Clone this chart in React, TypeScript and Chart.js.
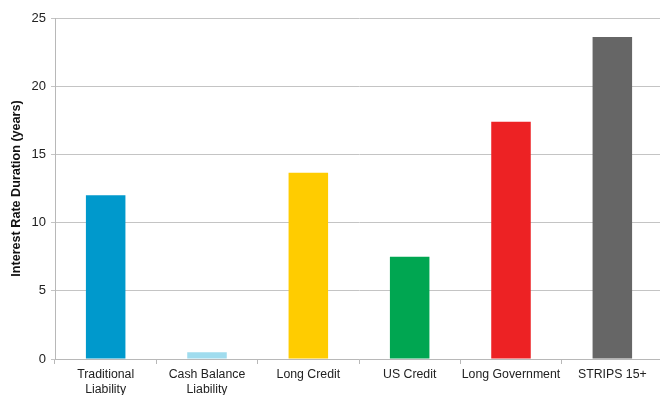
import React, { useEffect, useRef } from "react";
import { Chart, registerables } from "chart.js";

Chart.register(...registerables);

const categories: (string | string[])[] = [
  ["Traditional", "Liability"],
  ["Cash Balance", "Liability"],
  "Long Credit",
  "US Credit",
  "Long Government",
  "STRIPS 15+",
];
const durations = [12.0, 0.5, 13.65, 7.5, 17.4, 23.6];
const barColors = ["#0099cc", "#a0dcee", "#ffcc00", "#00a651", "#ed2224", "#666666"];
const yTicks = [0, 5, 10, 15, 20, 25];
const yTitle = "Interest Rate Duration (years)";

export default function App() {
  const ref = useRef<HTMLCanvasElement>(null);
  useEffect(() => {
    if (!ref.current) return;
    const chart = new Chart(ref.current, {
      type: "bar",
      data: {
        labels: categories,
        datasets: [
          {
            data: durations,
            backgroundColor: barColors,
            borderWidth: 0,
            barPercentage: 0.39,
            categoryPercentage: 1,
          },
        ],
      },
      options: {
        responsive: false,
        animation: false,
        layout: { padding: { top: 18, right: 0, left: 0, bottom: 0 } },
        plugins: { legend: { display: false }, tooltip: { enabled: false } },
        scales: {
          x: {
            grid: { drawOnChartArea: false, drawTicks: true, tickLength: 5, color: "#b8b8b8", offset: true },
            border: { color: "#b8b8b8" },
            ticks: { color: "#222", font: { family: "Liberation Sans, Arial", size: 12.3 }, padding: 3, maxRotation: 0, autoSkip: false },
            afterFit: (s: any) => { s.height = 36; },
          },
          y: {
            min: 0,
            max: 25,
            afterBuildTicks: (s: any) => { s.ticks = yTicks.map((v) => ({ value: v })); },
            grid: { color: "#c4c4c4", tickLength: 4 },
            border: { color: "#b8b8b8" },
            ticks: { color: "#222", font: { family: "Liberation Sans, Arial", size: 13 }, padding: 5 },
            title: {
              display: true,
              text: yTitle,
              color: "#111",
              font: { family: "Liberation Sans, Arial", size: 12.6, weight: "bold" },
              padding: { top: 9, bottom: 0 },
            },
            afterFit: (s: any) => { s.width = 55; },
          },
        },
      },
    });
    return () => chart.destroy();
  }, []);
  return (
    <div style={{ position: "fixed", left: 0, top: 0, width: 660, height: 395, overflow: "hidden", background: "#fff" }}>
      <canvas ref={ref} width={663} height={395} style={{ display: "block" }} />
    </div>
  );
}
